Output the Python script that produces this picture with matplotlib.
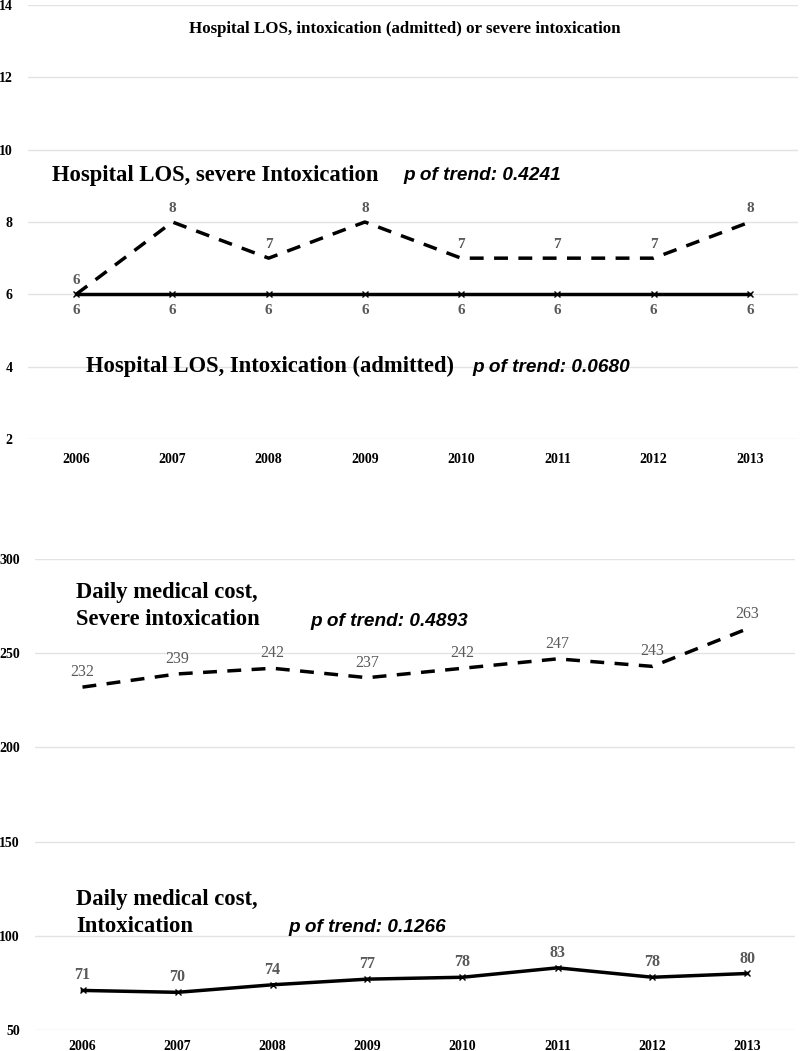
import matplotlib
matplotlib.use("Agg")
import matplotlib.pyplot as plt

years = ["2006", "2007", "2008", "2009", "2010", "2011", "2012", "2013"]
los_severe = [6, 8, 7, 8, 7, 7, 7, 8]
los_admitted = [6, 6, 6, 6, 6, 6, 6, 6]
cost_severe = [232, 239, 242, 237, 242, 247, 243, 263]
cost_intox = [71, 70, 74, 77, 78, 83, 78, 80]
top_yticks = [2, 4, 6, 8, 10, 12, 14]
bot_yticks = [50, 100, 150, 200, 250, 300]

SERIF = "Liberation Serif"
SANS = "Liberation Sans"
GRAY = "#595959"
GRID = "#e3e3e3"

fig = plt.figure(figsize=(8, 10.51), dpi=100)
ax1 = fig.add_axes([28 / 800, 612 / 1051, 770 / 800, 434 / 1051])
ax2 = fig.add_axes([35 / 800, 21 / 1051, 760 / 800, 471 / 1051])

x = list(range(len(years)))

def style(ax, yticks, xpad):
    ax.set_xlim(-0.5, len(years) - 0.5)
    ax.set_ylim(yticks[0], yticks[-1])
    ax.set_yticks(yticks)
    ax.set_xticks(x)
    ax.set_xticklabels(years)
    for s in ax.spines.values():
        s.set_visible(False)
    ax.grid(axis="y", color=GRID, lw=1)
    ax.set_axisbelow(True)
    ax.tick_params(axis="x", length=0, pad=xpad)
    ax.tick_params(axis="y", length=0, pad=11)
    for lab in ax.get_xticklabels() + ax.get_yticklabels():
        lab.set_fontfamily(SERIF)
        lab.set_fontweight("bold")
        lab.set_fontsize(10)

style(ax1, top_yticks, 10)
style(ax2, bot_yticks, 7)

# Top panel
ax1.plot(x, los_severe, color="black", lw=2.5, ls=(0, (4, 3)))
ax1.plot(x, los_admitted, color="black", lw=2.5, marker="x", ms=5, mew=1)
for xi, v in zip(x, los_severe):
    ax1.annotate(str(v), (xi, v), xytext=(0, 5), textcoords="offset points",
                 ha="center", va="bottom", color=GRAY, fontfamily=SERIF,
                 fontweight="bold", fontsize=11)
for xi, v in zip(x, los_admitted):
    ax1.annotate(str(v), (xi, v), xytext=(0, -7), textcoords="offset points",
                 ha="center", va="top", color=GRAY, fontfamily=SERIF,
                 fontweight="bold", fontsize=11)

fig.text(405 / 800, 1 - 29 / 1051, "Hospital LOS, intoxication (admitted) or severe intoxication",
         ha="center", va="center", fontfamily=SERIF, fontweight="bold", fontsize=12.2)
fig.text(52 / 800, 1 - 176 / 1051, "Hospital LOS, severe Intoxication",
         ha="left", va="center", fontfamily=SERIF, fontweight="bold", fontsize=16.3)
fig.text(403 / 800, 1 - 175 / 1051, "p of trend: 0.4241",
         ha="left", va="center", fontfamily=SANS, fontweight="bold", style="italic", fontsize=13.7)
fig.text(86 / 800, 1 - 366 / 1051, "Hospital LOS, Intoxication (admitted)",
         ha="left", va="center", fontfamily=SERIF, fontweight="bold", fontsize=16.3)
fig.text(472 / 800, 1 - 367 / 1051, "p of trend: 0.0680",
         ha="left", va="center", fontfamily=SANS, fontweight="bold", style="italic", fontsize=13.7)

# Bottom panel
ax2.plot(x, cost_severe, color="black", lw=2.5, ls=(0, (4, 3)))
ax2.plot(x, cost_intox, color="black", lw=2.5, marker="x", ms=5, mew=1)
for xi, v in zip(x, cost_severe):
    ax2.annotate(str(v), (xi, v), xytext=(0, 5), textcoords="offset points",
                 ha="center", va="bottom", color=GRAY, fontfamily=SERIF,
                 fontsize=11.5)
for xi, v in zip(x, cost_intox):
    ax2.annotate(str(v), (xi, v), xytext=(0, 5), textcoords="offset points",
                 ha="center", va="bottom", color=GRAY, fontfamily=SERIF,
                 fontweight="bold", fontsize=11.5)

fig.text(76 / 800, 1 - 606 / 1051, "Daily medical cost,\nSevere intoxication",
         ha="left", va="center", fontfamily=SERIF, fontweight="bold", fontsize=16.3,
         linespacing=1.38)
fig.text(310 / 800, 1 - 621 / 1051, "p of trend: 0.4893",
         ha="left", va="center", fontfamily=SANS, fontweight="bold", style="italic", fontsize=13.7)
fig.text(76 / 800, 1 - 913 / 1051, "Daily medical cost,\nIntoxication",
         ha="left", va="center", fontfamily=SERIF, fontweight="bold", fontsize=16.3,
         linespacing=1.38)
fig.text(288 / 800, 1 - 928 / 1051, "p of trend: 0.1266",
         ha="left", va="center", fontfamily=SANS, fontweight="bold", style="italic", fontsize=13.7)

fig.savefig("out.png", dpi=100)
